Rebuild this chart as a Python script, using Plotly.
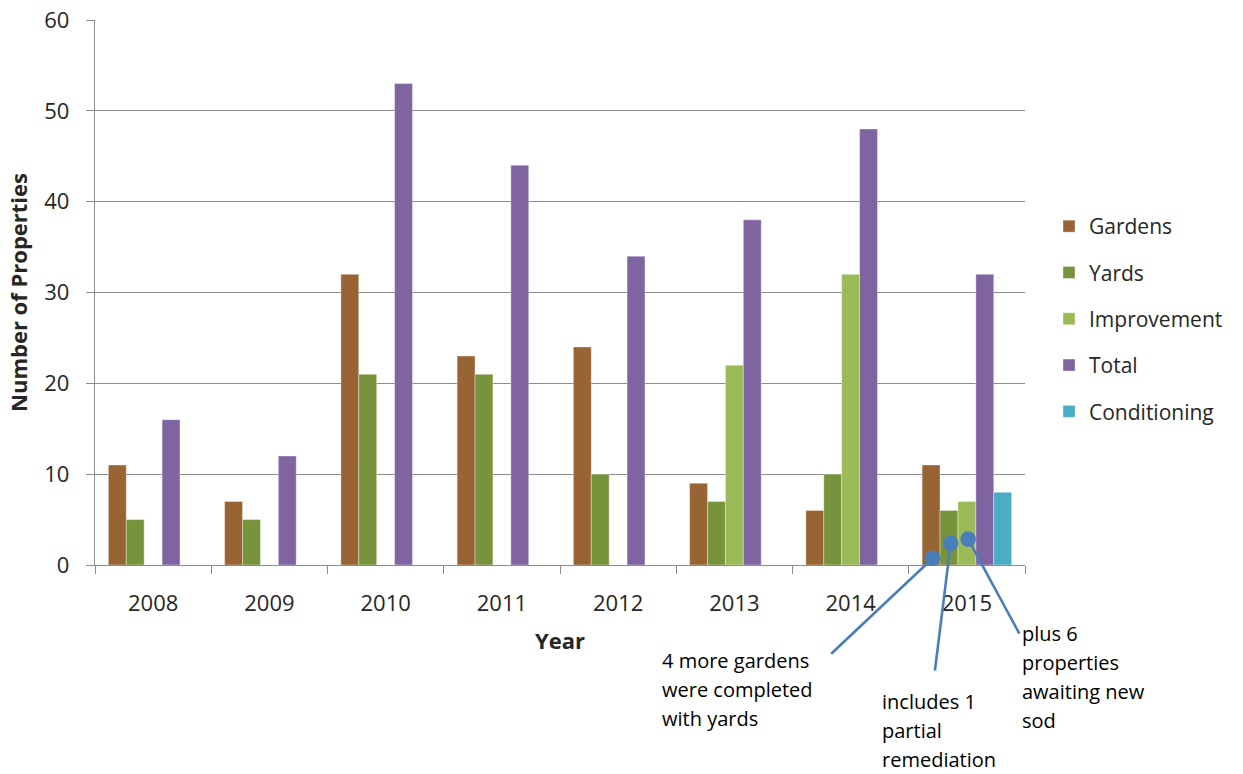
import plotly.graph_objects as go

years = ["2008", "2009", "2010", "2011", "2012", "2013", "2014", "2015"]
gardens = [11, 7, 32, 23, 24, 9, 6, 11]
yards = [5, 5, 21, 21, 10, 7, 10, 6]
improvement = [0, 0, 0, 0, 0, 22, 32, 7]
total = [16, 12, 53, 44, 34, 38, 48, 32]
conditioning = [0, 0, 0, 0, 0, 0, 0, 8]
y_ticks = [0, 10, 20, 30, 40, 50, 60]

series = [
    ("Gardens", gardens, "#996434"),
    ("Yards", yards, "#77933c"),
    ("Improvement", improvement, "#9bbb59"),
    ("Total", total, "#8064a2"),
    ("Conditioning", conditioning, "#4bacc6"),
]

FONT = "Open Sans"
TXT = "#262626"
GRID = "#8c8c8c"

W, H = 1243, 774
PL, PR, PT, PB = 95, 1025, 20, 565  # plot area in page pixels

fig = go.Figure()
for i, (name, vals, col) in enumerate(series):
    fig.add_trace(go.Bar(
        x=years, y=vals, name=name, legendgroup=name,
        marker=dict(color=col, line=dict(color="rgba(255,255,255,0.6)", width=0.6)),
    ))

fig.update_layout(
    width=W, height=H,
    margin=dict(l=PL, r=W - PR, t=PT, b=H - PB, autoexpand=False),
    paper_bgcolor="white", plot_bgcolor="white",
    barmode="group", bargap=0.23, bargroupgap=0,
    font=dict(family=FONT, size=21, color=TXT),
    showlegend=True,
    legend=dict(x=(1049 - PL) / (PR - PL), xanchor="left", y=(PB - 319) / (PB - PT), yanchor="middle",
                traceorder="grouped", tracegroupgap=16,
                font=dict(family=FONT, size=21, color=TXT),
                itemwidth=30),
    xaxis=dict(
        type="category", tickson="boundaries", ticks="outside", ticklen=8,
        tickcolor=GRID, tickwidth=1.3, showline=True, linecolor=GRID, linewidth=1.3,
        showgrid=False, ticklabelstandoff=18, automargin=False,
        tickfont=dict(family=FONT, size=22, color=TXT),
        title=dict(text="<b>Year</b>", font=dict(family=FONT, size=22, color=TXT), standoff=18),
    ),
    yaxis=dict(
        range=[0, 60], tickmode="array", tickvals=y_ticks, ticks="outside", ticklen=8,
        tickcolor=GRID, tickwidth=1.3,
        showline=True, linecolor=GRID, linewidth=1.3,
        showgrid=True, gridcolor=GRID, gridwidth=1.3, zeroline=False,
        ticklabelstandoff=12, automargin=False,
        tickfont=dict(family=FONT, size=22, color=TXT),
        title=dict(text="<b>Number of Properties</b>", font=dict(family=FONT, size=22, color=TXT), standoff=10),
    ),
)

BLUE = "#4a7ebb"
callouts = [
    # (x index, y value, tail dx px, tail dy px)
    (6.706, 0.75, -103, 97),
    (6.861, 2.4, -16, 129),
    (7.011, 2.85, 52, 96),
]
for cx, cy, dx, dy in callouts:
    fig.add_annotation(
        x=cx, y=cy, xref="x", yref="y", ax=dx, ay=dy, axref="pixel", ayref="pixel",
        text="", showarrow=True, arrowhead=6, arrowsize=1.5, arrowwidth=2.6,
        arrowcolor=BLUE, standoff=0, startstandoff=0,
    )

notes = [
    (["4 more gardens", "were completed", "with yards"], 660, 660),
    (["includes 1", "partial", "remediation"], 880, 701),
    (["plus 6", "properties", "awaiting new", "sod"], 1020, 633),
]
for lines, px, py in notes:
    for k, line in enumerate(lines):
        fig.add_annotation(
            x=(px - PL) / (PR - PL), y=(PB - (py + 29 * k)) / (PB - PT),
            xref="paper", yref="paper",
            xanchor="left", yanchor="middle", align="left", showarrow=False,
            text=line, font=dict(family=FONT, size=20, color="#000000"),
        )

fig.write_html("out.html", config={"displayModeBar": False},
               post_script="document.body.style.margin='0';")
